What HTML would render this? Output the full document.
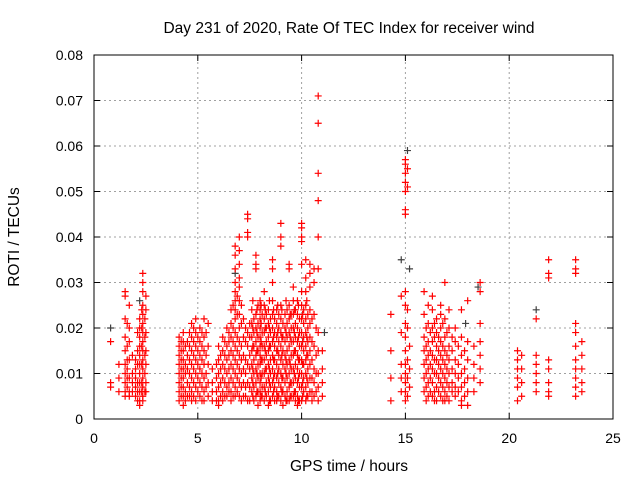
<!DOCTYPE html>
<html><head><meta charset="utf-8"><style>
body{margin:0;background:#fff;}
svg{display:block;font-family:"Liberation Sans",sans-serif;}
</style></head><body>
<svg id="chart" width="640" height="480">
<text x="349" y="33" font-size="15.5" text-anchor="middle">Day 231 of 2020, Rate Of TEC Index for receiver wind</text>
<text x="349" y="471" font-size="15.5" text-anchor="middle">GPS time / hours</text>
<text transform="translate(19,237) rotate(-90)" font-size="15.5" text-anchor="middle">ROTI / TECUs</text>
<g id="grid"></g><g id="axes"></g><g id="marks"></g>
<rect x="94" y="55" width="519" height="364" fill="none" stroke="#000" stroke-width="1"/>
</svg>
<script>
const xTicks=[0,5,10,15,20,25];
const yTicks=[0,0.01,0.02,0.03,0.04,0.05,0.06,0.07,0.08];
const yTickLabels=["0","0.01","0.02","0.03","0.04","0.05","0.06","0.07","0.08"];
const redColumns=[
[0.8,[0.017,0.008,0.007]],
[1.2,[0.012,0.009,0.006]],
[1.5,[0.028,0.027,0.022,0.018,0.015,0.012,0.010,0.008,0.006,0.005]],
[1.6,[0.021,0.016,0.013,0.011,0.009,0.007]],
[1.7,[0.025,0.020,0.017,0.013,0.009,0.006,0.005]],
[1.85,[0.014,0.010,0.008,0.006]],
[2.0,[0.013,0.011,0.009,0.007,0.005]],
[2.1,[0.019,0.015,0.012,0.008,0.006,0.004]],
[2.2,[0.022,0.020,0.018,0.016,0.014,0.012,0.010,0.008,0.006,0.004,0.003]],
[2.3,[0.024,0.020,0.016,0.012,0.008,0.006]],
[2.35,[0.032,0.030,0.028,0.025,0.023,0.021,0.019,0.017,0.015,0.013,0.011,0.009,0.007,0.005,0.004]],
[2.45,[0.022,0.018,0.014,0.010,0.006]],
[2.5,[0.027,0.024,0.019,0.015,0.012,0.008,0.006]],
[4.1,[0.018,0.016,0.014,0.012,0.010,0.008,0.006,0.004]],
[4.2,[0.017,0.015,0.013,0.011,0.009,0.007,0.005]],
[4.3,[0.019,0.017,0.015,0.013,0.011,0.009,0.007,0.005,0.003]],
[4.4,[0.016,0.012,0.010,0.006,0.004]],
[4.5,[0.017,0.014,0.011,0.008,0.005]],
[4.6,[0.019,0.016,0.013,0.010,0.007,0.005]],
[4.7,[0.021,0.018,0.015,0.012,0.009,0.006,0.004]],
[4.8,[0.020,0.017,0.014,0.011,0.008,0.005]],
[4.9,[0.022,0.019,0.016,0.013,0.010,0.007,0.004]],
[5.0,[0.018,0.015,0.012,0.009,0.006]],
[5.1,[0.020,0.017,0.014,0.011,0.008,0.005]],
[5.2,[0.019,0.016,0.013,0.010,0.007,0.004]],
[5.3,[0.022,0.018,0.015,0.012,0.009,0.006,0.004]],
[5.4,[0.019,0.014,0.010,0.007]],
[5.5,[0.021,0.016,0.012,0.008,0.005]],
[5.7,[0.011,0.008,0.006,0.004]],
[5.9,[0.012,0.009,0.006,0.004]],
[6.0,[0.016,0.013,0.010,0.007,0.004,0.003]],
[6.1,[0.014,0.011,0.008,0.005]],
[6.2,[0.018,0.015,0.012,0.009,0.006,0.004]],
[6.3,[0.017,0.014,0.011,0.008,0.005]],
[6.4,[0.020,0.016,0.013,0.010,0.007,0.005]],
[6.5,[0.019,0.017,0.014,0.011,0.008,0.006]],
[6.6,[0.024,0.021,0.018,0.015,0.012,0.009,0.006,0.004]],
[6.7,[0.025,0.020,0.017,0.014,0.011,0.008,0.005]],
[6.8,[0.038,0.036,0.033,0.030,0.028,0.026,0.024,0.022,0.019,0.016,0.013,0.010,0.007,0.005]],
[6.9,[0.027,0.023,0.018,0.015,0.012,0.009,0.006]],
[7.0,[0.040,0.037,0.034,0.031,0.029,0.026,0.023,0.020,0.017,0.014,0.011,0.008,0.005]],
[7.1,[0.025,0.021,0.016,0.013,0.010,0.007,0.004]],
[7.2,[0.022,0.018,0.014,0.011,0.008,0.005]],
[7.3,[0.020,0.017,0.013,0.010,0.007,0.005]],
[7.4,[0.045,0.044,0.041,0.040,0.019,0.016,0.012,0.008,0.004]],
[7.5,[0.021,0.018,0.014,0.011,0.007,0.004]],
[7.6,[0.024,0.021,0.018,0.015,0.012,0.009,0.006]],
[7.65,[0.026,0.020,0.016,0.011,0.008,0.005]],
[7.7,[0.022,0.019,0.016,0.013,0.010,0.007,0.004]],
[7.8,[0.036,0.034,0.033,0.023,0.020,0.017,0.014,0.011,0.008,0.005]],
[7.85,[0.024,0.019,0.015,0.010,0.006]],
[7.9,[0.025,0.021,0.018,0.015,0.012,0.009,0.006,0.003]],
[8.0,[0.026,0.024,0.022,0.020,0.018,0.016,0.014,0.012,0.010,0.008,0.006,0.004]],
[8.05,[0.025,0.021,0.017,0.013,0.009,0.005]],
[8.1,[0.023,0.019,0.016,0.013,0.010,0.007,0.005]],
[8.2,[0.028,0.025,0.022,0.019,0.016,0.013,0.010,0.007,0.004]],
[8.25,[0.024,0.020,0.015,0.011,0.006]],
[8.3,[0.023,0.020,0.017,0.014,0.011,0.008,0.005]],
[8.4,[0.024,0.021,0.018,0.015,0.012,0.009,0.006,0.003]],
[8.45,[0.026,0.020,0.016,0.011,0.008,0.004]],
[8.5,[0.022,0.019,0.016,0.013,0.010,0.007,0.004]],
[8.6,[0.035,0.033,0.030,0.026,0.023,0.020,0.017,0.014,0.011,0.008,0.005]],
[8.65,[0.024,0.018,0.013,0.009,0.006]],
[8.7,[0.022,0.019,0.016,0.013,0.010,0.007,0.004]],
[8.8,[0.024,0.021,0.018,0.015,0.012,0.009,0.006,0.004]],
[8.85,[0.025,0.019,0.015,0.010,0.005]],
[8.9,[0.023,0.020,0.017,0.014,0.011,0.008,0.005]],
[9.0,[0.043,0.040,0.038,0.025,0.022,0.019,0.016,0.013,0.010,0.007,0.004]],
[9.05,[0.024,0.018,0.014,0.009,0.006]],
[9.1,[0.021,0.018,0.015,0.012,0.009,0.006,0.003]],
[9.2,[0.023,0.020,0.017,0.014,0.011,0.008,0.005]],
[9.25,[0.026,0.019,0.013,0.010,0.004]],
[9.3,[0.024,0.021,0.018,0.015,0.012,0.009,0.006,0.004]],
[9.4,[0.034,0.033,0.025,0.022,0.019,0.016,0.013,0.010,0.007,0.004]],
[9.45,[0.023,0.018,0.012,0.008,0.005]],
[9.5,[0.023,0.020,0.017,0.014,0.011,0.008,0.005]],
[9.6,[0.029,0.026,0.023,0.020,0.017,0.014,0.011,0.008,0.005]],
[9.65,[0.024,0.019,0.015,0.010,0.006]],
[9.7,[0.024,0.021,0.018,0.015,0.012,0.009,0.006,0.004]],
[9.8,[0.026,0.023,0.020,0.017,0.014,0.011,0.008,0.005,0.003]],
[9.85,[0.025,0.018,0.013,0.009,0.004]],
[9.9,[0.022,0.019,0.016,0.013,0.010,0.007,0.004]],
[10.0,[0.043,0.042,0.040,0.039,0.034,0.028,0.025,0.022,0.019,0.016,0.013,0.010,0.007,0.004]],
[10.05,[0.023,0.017,0.012,0.008,0.005]],
[10.1,[0.024,0.021,0.018,0.015,0.012,0.009,0.006]],
[10.2,[0.035,0.031,0.028,0.025,0.022,0.019,0.016,0.013,0.010,0.007,0.004]],
[10.25,[0.026,0.018,0.014,0.009,0.005]],
[10.3,[0.023,0.020,0.017,0.014,0.011,0.008,0.005]],
[10.4,[0.034,0.032,0.029,0.024,0.021,0.018,0.015,0.012,0.009,0.006]],
[10.5,[0.022,0.017,0.013,0.009,0.006,0.004]],
[10.6,[0.033,0.030,0.023,0.016,0.011,0.008,0.005]],
[10.7,[0.020,0.014,0.010,0.006]],
[10.8,[0.071,0.065,0.054,0.048,0.040,0.033,0.019,0.015,0.010,0.007,0.004]],
[11.0,[0.015,0.011,0.008,0.005]],
[14.3,[0.023,0.015,0.009,0.004]],
[14.8,[0.027,0.019,0.012,0.009,0.006]],
[15.0,[0.057,0.056,0.054,0.052,0.050,0.046,0.045,0.028,0.025,0.021,0.018,0.015,0.012,0.010,0.008,0.006,0.004]],
[15.1,[0.055,0.051,0.024,0.020,0.013,0.009,0.005]],
[15.2,[0.016,0.011,0.007]],
[15.9,[0.028,0.023,0.018,0.015,0.012,0.009,0.006]],
[16.0,[0.020,0.016,0.013,0.010,0.007,0.004]],
[16.1,[0.025,0.021,0.017,0.014,0.011,0.008,0.005]],
[16.2,[0.019,0.015,0.012,0.009,0.006]],
[16.3,[0.027,0.024,0.020,0.017,0.014,0.011,0.008,0.005]],
[16.4,[0.021,0.018,0.013,0.010,0.006,0.004]],
[16.5,[0.022,0.019,0.016,0.013,0.010,0.007,0.004]],
[16.6,[0.018,0.015,0.012,0.009,0.006]],
[16.7,[0.025,0.023,0.020,0.017,0.014,0.011,0.008,0.005]],
[16.8,[0.021,0.016,0.013,0.010,0.007,0.004]],
[16.9,[0.030,0.022,0.018,0.015,0.012,0.009,0.006,0.004]],
[17.0,[0.019,0.014,0.011,0.008,0.005]],
[17.1,[0.024,0.020,0.016,0.013,0.010,0.007,0.004]],
[17.25,[0.018,0.015,0.011,0.008,0.006]],
[17.4,[0.020,0.017,0.013,0.010,0.007,0.005]],
[17.55,[0.016,0.012,0.009,0.006]],
[17.7,[0.024,0.018,0.014,0.010,0.007,0.004,0.003]],
[17.85,[0.015,0.011,0.008,0.005]],
[18.0,[0.026,0.017,0.013,0.009,0.006,0.003]],
[18.3,[0.016,0.012,0.009,0.006]],
[18.6,[0.030,0.028,0.021,0.017,0.014,0.011,0.008]],
[20.4,[0.015,0.013,0.011,0.009,0.007,0.004]],
[20.6,[0.014,0.011,0.008,0.005]],
[21.3,[0.022,0.014,0.012,0.010,0.008,0.006]],
[21.9,[0.035,0.032,0.031,0.013,0.011,0.008,0.006,0.005]],
[23.2,[0.035,0.033,0.032,0.021,0.019,0.016,0.013,0.011,0.009,0.007,0.005]],
[23.5,[0.017,0.014,0.011,0.008,0.006]]
];
const grayTimes=[0.8,2.2,6.8,11.1,14.8,15.1,15.2,17.9,18.5,21.3];
const grayRoti=[0.020,0.026,0.032,0.019,0.035,0.059,0.033,0.021,0.029,0.024];

const NS="http://www.w3.org/2000/svg";
const X0=94,X1=613,Y0=419,Y1=55;
function xs(t){return X0+(t-0)/(25-0)*(X1-X0);}
function ys(v){return Y0-(v-0)/(0.08-0)*(Y0-Y1);}
function mk(tag,at,parent){const e=document.createElementNS(NS,tag);for(const k in at)e.setAttribute(k,at[k]);parent.appendChild(e);return e;}
const grid=document.getElementById('grid'),axes=document.getElementById('axes'),marks=document.getElementById('marks');
xTicks.forEach((t,i)=>{
  const x=xs(t);
  if(i>0&&i<xTicks.length-1){const g=mk('line',{x1:x,x2:x,y1:Y0,y2:Y1,stroke:'#a0a0a0','stroke-dasharray':'2,3'},grid);
  
  }
  const tk=mk('path',{d:`M${x},${Y0}v-6M${x},${Y1}v6`,stroke:'#000'},axes);
  
  
  const lb=mk('text',{x:x,y:443,'font-size':14,'text-anchor':'middle'},axes);lb.textContent=t;
  
  
});
yTicks.forEach((v,i)=>{
  const y=ys(v);
  if(i>0&&i<yTicks.length-1){const g=mk('line',{x1:X0,x2:X1,y1:y,y2:y,stroke:'#a0a0a0','stroke-dasharray':'2,3'},grid);
  
  }
  const tk=mk('path',{d:`M${X0},${y}h6M${X1},${y}h-6`,stroke:'#000'},axes);
  
  
  const lb=mk('text',{x:83,y:y+5,'font-size':14,'text-anchor':'end'},axes);lb.textContent=yTickLabels[i];
  
  
});
function plus(t,v,color,name){
  const x=xs(t),y=ys(v);
  const p=mk('path',{d:`M${x-3.5},${y}h7M${x},${y-3.5}v7`,stroke:color,'stroke-width':1.2,fill:'none'},marks);
  
  
}
grayTimes.forEach((t,i)=>plus(t,grayRoti[i],'#404040','gray-point'));
redColumns.forEach(c=>c[1].forEach(v=>plus(c[0],v,'#ff0000','roti-point')));
</script>
</body></html>
